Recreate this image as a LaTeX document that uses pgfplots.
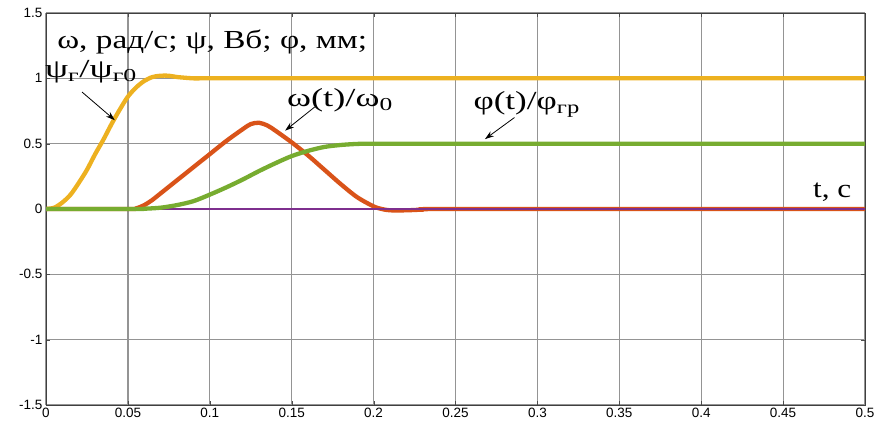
\documentclass[border=0pt]{standalone}
\usepackage{fontspec}
\setmainfont{Liberation Serif}
\setsansfont{Liberation Sans}
\usepackage{pgfplots}
\pgfplotsset{compat=1.18}
\usetikzlibrary{arrows.meta}

\definecolor{cpsi}{HTML}{EDB120}
\definecolor{comega}{HTML}{D95319}
\definecolor{cphi}{HTML}{77AC30}
\definecolor{czero}{HTML}{7E2F8E}

\newcommand{\ann}[2]{\scalebox{#1}[1]{\fontsize{26}{26}\selectfont #2}}

\begin{document}
\begin{tikzpicture}
\begin{axis}[
    name=ax,
    scale only axis,
    width=819pt, height=392pt,
    xmin=0, xmax=0.5, ymin=-1.5, ymax=1.5,
    xtick={0,0.05,0.1,0.15,0.2,0.25,0.3,0.35,0.4,0.45,0.5},
    ytick={-1.5,-1,-0.5,0,0.5,1,1.5},
    scaled ticks=false,
    /pgf/number format/fixed,
    /pgf/number format/precision=2,
    /pgf/number format/assume math mode=true,
    ticklabel style={font=\sffamily\fontsize{13.5}{13.5}\selectfont},
    grid=major,
    major grid style={black!42, line width=1.2pt},
    axis line style={black!75, line width=0.9pt},
    tick style={black!70},
    tick align=inside,
    major tick length=4pt,
  ]
  % psi_r / psi_r0
  \addplot[cpsi, line width=4.3pt, smooth] coordinates {
    (0,0) (0.005,0.01) (0.01,0.05) (0.015,0.11) (0.02,0.2) (0.025,0.3)
    (0.03,0.42) (0.035,0.53) (0.04,0.65) (0.045,0.76) (0.05,0.86)
    (0.055,0.93) (0.06,0.98) (0.065,1.01) (0.07,1.02) (0.075,1.02)
    (0.08,1.01) (0.09,1.0) (0.1,1.0) (0.2,1.0) (0.5,1.0)
  };
  % omega / omega0
  \addplot[comega, line width=4.3pt, smooth] coordinates {
    (0,0) (0.05,0) (0.055,0.005) (0.06,0.03) (0.065,0.07) (0.07,0.12)
    (0.08,0.22) (0.09,0.32) (0.1,0.42) (0.11,0.52) (0.12,0.61)
    (0.125,0.65) (0.13,0.66) (0.135,0.64) (0.14,0.6) (0.15,0.51)
    (0.16,0.41) (0.17,0.3) (0.18,0.19) (0.19,0.09) (0.2,0.02)
    (0.205,0.0) (0.21,-0.01) (0.22,-0.01) (0.23,-0.005) (0.25,0) (0.5,0)
  };
  % zero line
  \addplot[czero, line width=1.6pt] coordinates {(0,0) (0.5,0)};
  % phi / phi_gr
  \addplot[cphi, line width=4.3pt, smooth] coordinates {
    (0,0) (0.055,0) (0.06,0.002) (0.07,0.01) (0.08,0.03) (0.09,0.06)
    (0.1,0.11) (0.11,0.165) (0.12,0.225) (0.13,0.29) (0.14,0.35)
    (0.15,0.405) (0.16,0.445) (0.17,0.475) (0.18,0.49) (0.19,0.498)
    (0.2,0.5) (0.25,0.5) (0.5,0.5)
  };
\end{axis}
\path (ax.south west) ++(-46pt,-18pt) coordinate (bl);
\path (ax.north east) ++(15pt,13pt) coordinate (tr);
\path (bl) rectangle (tr);
\begin{axis}[
    scale only axis, width=819pt, height=392pt,
    xmin=0, xmax=0.5, ymin=-1.5, ymax=1.5,
    hide axis, clip=false,
  ]
  \node at (axis cs:0.1015,1.28) {\ann{1.28}{ω, рад/с; ψ, Вб; φ, мм;}};
  \node at (axis cs:0.0275,1.05) {\ann{1.42}{ψ\textsubscript{г}/ψ\textsubscript{г0}}};
  \node at (axis cs:0.1795,0.83) {\ann{1.4}{ω(t)/ω\textsubscript{0}}};
  \node at (axis cs:0.2935,0.8) {\ann{1.35}{φ(t)/φ\textsubscript{гр}}};
  \node at (axis cs:0.48,0.13) {\ann{1.2}{t, с}};
  \draw[-{Stealth[length=9pt,width=6pt]}, line width=0.8pt] (axis cs:0.022,0.895) -- (axis cs:0.042,0.68);
  \draw[-{Stealth[length=9pt,width=6pt]}, line width=0.8pt] (axis cs:0.164,0.78) -- (axis cs:0.146,0.6);
  \draw[-{Stealth[length=9pt,width=6pt]}, line width=0.8pt] (axis cs:0.286,0.7) -- (axis cs:0.268,0.535);
\end{axis}
\end{tikzpicture}
\end{document}
